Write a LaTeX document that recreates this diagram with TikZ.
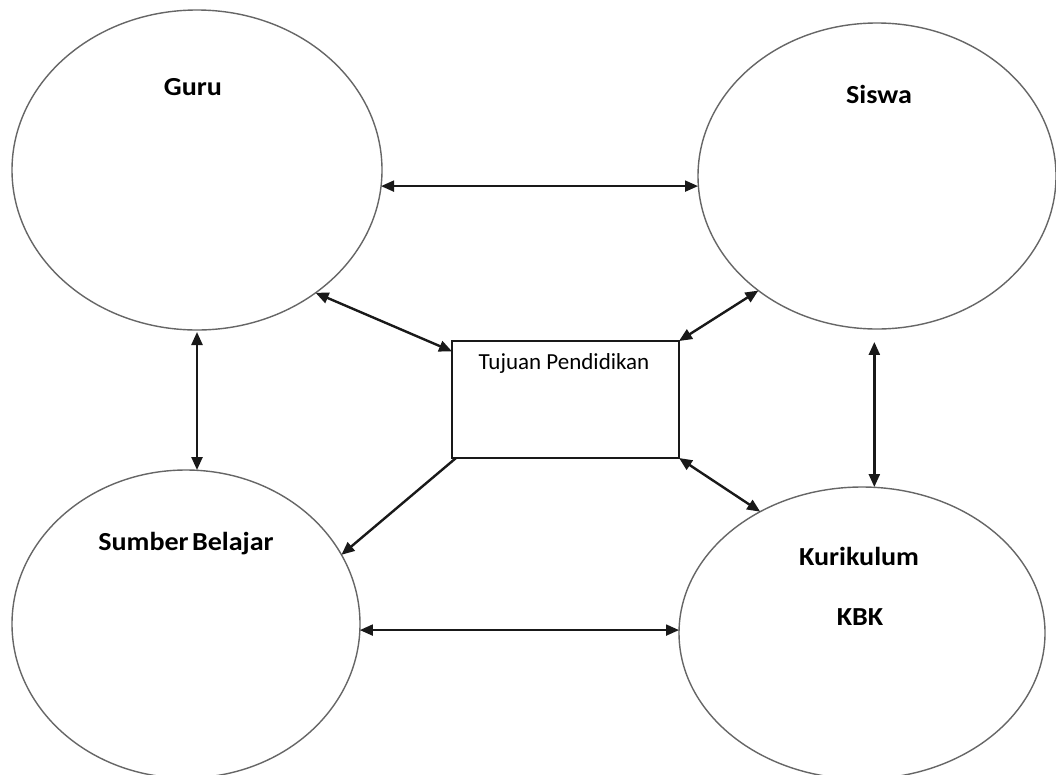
\documentclass[tikz,border=0pt]{standalone}
\usepackage{fontspec}
\setmainfont{Carlito}
\newfontfamily\lblfont[FakeStretch=1.08]{Carlito}
\usetikzlibrary{shapes.geometric,arrows.meta}
\tikzset{
  circ/.style={ellipse, draw=black!60, line width=1.4pt, inner sep=0pt, outer sep=0pt},
  box/.style={rectangle, draw=black!90, line width=1.8pt, inner sep=0pt, outer sep=0pt},
  lbl/.style={anchor=base, inner sep=0pt, font=\lblfont\bfseries\fontsize{26}{30}\selectfont},
  arr/.style={line width=2pt, draw=black!90, {Triangle[length=13pt,width=11pt]}-{Triangle[length=13pt,width=11pt]}},
  darr/.style={arr, line width=2.4pt},
  oarr/.style={line width=2.4pt, draw=black!90, -{Triangle[length=13pt,width=11pt]}}
}
\begin{document}
\begin{tikzpicture}[x=1pt,y=-1pt]
\useasboundingbox (0,0) rectangle (1056,774);
\clip (0,0) rectangle (1056,774);
\fill[white] (0,0) rectangle (1056,774);
% ellipses
\node[circ, minimum width=370pt, minimum height=320pt] (guru) at (197,170) {};
\node[circ, minimum width=358pt, minimum height=306pt] (siswa) at (877,176) {};
\node[circ, minimum width=348pt, minimum height=308pt] (sumber) at (186,624) {};
\node[circ, minimum width=366pt, minimum height=292pt] (kurikulum) at (862,633) {};
\node[box, minimum width=227pt, minimum height=117pt] (tujuan) at (565.5,399.5) {};
% labels
\node[lbl] (tguru) at (193,95) {Guru};
\node[lbl] (tsiswa) at (879,103) {Siswa};
\node[lbl] (tsumber) at (186,550) {Sumber\hspace{-3pt} Belajar};
\node[lbl] (tkuri) at (859,565) {Kurikulum};
\node[lbl] (tkbk) at (860,625) {KBK};
\node[anchor=base, inner sep=0pt, font=\fontsize{23}{27}\selectfont] (ttujuan) at (564,369) {Tujuan Pendidikan};
% connectors
\draw[arr] (guru.-5.3) -- (guru.-5.3 -| siswa.west);
\draw[arr] (sumber.-2) -- (sumber.-2 -| kurikulum.west);
\draw[darr, shorten <=2pt] (guru.-90.9) -- (guru.-90.9 |- sumber.north);
\draw[darr, shorten <=13pt] (siswa.-91.3) -- (siswa.-91.3 |- kurikulum.north);
\draw[darr] (guru.-46.8) -- (tujuan.157.3);
\draw[darr] (siswa.224.5) -- (tujuan.north east);
\draw[oarr] ([xshift=4pt]tujuan.south west) -- (sumber.24.8);
\draw[darr] (tujuan.south east) -- (kurikulum.130.2);
\end{tikzpicture}
\end{document}
